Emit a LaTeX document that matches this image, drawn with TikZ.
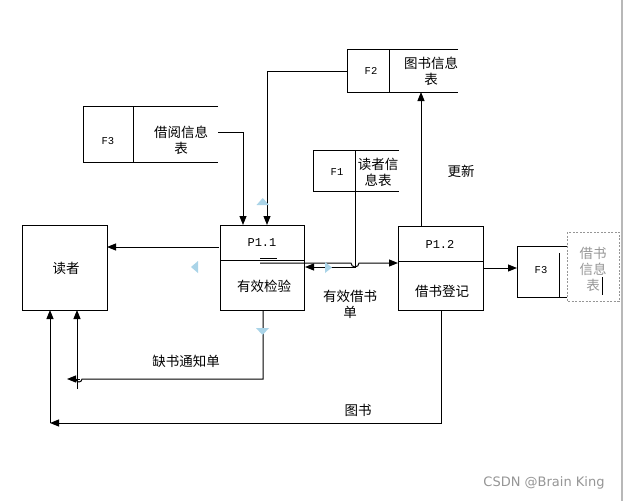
\documentclass[tikz,border=0pt]{standalone}
\usepackage{fontspec}
\setmainfont{Noto Sans CJK SC}
\newfontfamily\monof{Liberation Mono}
\newfontfamily\wmf{DejaVu Sans}
\usetikzlibrary{arrows.meta}
\definecolor{handle}{RGB}{170,212,232}
\definecolor{wm}{RGB}{150,150,150}
\tikzset{
  ln/.style={line width=1pt,black},
  arr/.style={ln,-{Triangle[length=9pt,width=7pt]}},
  zh/.style={font=\fontsize{13.5}{16}\selectfont,inner sep=0pt,align=center},
  code/.style={font=\monof\fontsize{12}{14}\selectfont,inner sep=0pt},
  fcode/.style={font=\monof\fontsize{10.5}{12}\selectfont,inner sep=0pt},
  procbox/.style={draw,line width=1pt,inner sep=0pt},
  hnd/.style={fill=handle,draw=none},
}
\begin{document}
\begin{tikzpicture}[x=1pt,y=-1pt]
\useasboundingbox (0,0) rectangle (625,501);
\fill[white] (0,0) rectangle (625,501);
\draw[line width=1.5pt,black!28] (622,0) -- (622,501);

% external entity
\node[procbox,minimum width=85pt,minimum height=85pt] (reader) at (64.5,267.5) {};
\node[zh] (readert) at (66,268) {读者};

% process P1.1
\node[procbox,minimum width=84pt,minimum height=85pt] (p11) at (262,267.5) {};
\draw[ln] (220,260) -- (304,260);
\node[code] (p11id) at (262,243) {P1.1};
\node[zh] (p11t) at (264,286) {有效检验};
\draw[ln] (260,258.5) -- (277,258.5);

% process P1.2
\node[procbox,minimum width=85pt,minimum height=84pt] (p12) at (440.5,268) {};
\draw[ln] (398,261) -- (483,261);
\node[code] (p12id) at (440,244) {P1.2};
\node[zh] (p12t) at (442,291) {借书登记};

% store F2
\draw[ln] (458,49) -- (347,49) -- (347,92) -- (458,92);
\draw[ln] (389,49) -- (389,92);
\node[fcode] (f2id) at (371,71) {F2};
\node[zh] (f2t) at (431,71.5) {图书信息\\表};
\coordinate (f2left) at (347,71);
\coordinate (f2bot) at (421,92);

% store F3 (借阅信息表)
\draw[ln] (218,106) -- (83,106) -- (83,162) -- (218,162);
\draw[ln] (133.5,106) -- (133.5,162);
\node[fcode] (f3id) at (108,141) {F3};
\node[zh] (f3t) at (181,140) {借阅信息\\表};
\coordinate (f3right) at (218,132);

% store F1
\draw[ln] (399,150) -- (313,150) -- (313,191) -- (399,191);
\node[fcode] (f1id) at (337,172) {F1};
\node[zh] (f1t) at (378,172) {读者信\\息表};
\coordinate (f1div) at (355,150);

% store F3 (借书信息表)
\draw[ln] (567,246) -- (517,246) -- (517,297) -- (567,297);
\draw[ln] (559,253) -- (559,297);
\node[fcode] (f3bid) at (541,270) {F3};
\draw[wm,dashed,line width=0.8pt,dash pattern=on 2pt off 1.5pt] (567,232) rectangle (619,301);
\node[zh,text=wm] (f3bt) at (593,269.5) {借书\\信息\\表};
\draw[line width=1pt] (602,277) -- (602,295);
\coordinate (f3bleft) at (517,268);

% connectors
\draw[arr] (f3right) -- (243,132) -- (243,225);
\draw[arr] (f2left) -- (267,71) -- (267,225);
\draw[arr] (421,226) -- (f2bot);
\node[zh] (upd) at (461,171) {更新};
\draw[arr] (f1div) -- (355,267) -- (305,267);
\draw[arr] (260,263) -- (351,263) arc[start angle=180,end angle=0,radius=4] -- (398,263);
\node[zh] (validl) at (350,304.5) {有效借书\\单};
\draw[arr] (219,247) -- (107,247);
\draw[arr] (483,268) -- (f3bleft);

\draw[ln] (263,310) -- (263,379) -- (82,379) arc[start angle=0,end angle=180,radius=3];
\draw[ln,-{Triangle[length=9pt,width=7pt]}] (80,379) -- (67,379);
\draw[arr] (77,389) -- (77,310);
\node[zh] (lackl) at (186,361) {缺书通知单};

\draw[arr] (441,310) -- (441,423) -- (50,423);
\draw[arr] (50,423) -- (50,310);
\node[zh] (bookl) at (358,410) {图书};

% selection handles
\fill[hnd] (256.5,205) -- (269,205) -- (262.75,198) -- cycle;
\fill[hnd] (198,261) -- (198,273) -- (191,267) -- cycle;
\fill[hnd] (325,262) -- (325,273) -- (332,267.5) -- cycle;
\fill[hnd] (256,328) -- (269,328) -- (262.5,335) -- cycle;

% watermark
\node[font=\wmf\fontsize{13}{15}\selectfont,text=wm,inner sep=0pt] (wmk) at (544,483) {CSDN @Brain King};
\end{tikzpicture}
\end{document}
